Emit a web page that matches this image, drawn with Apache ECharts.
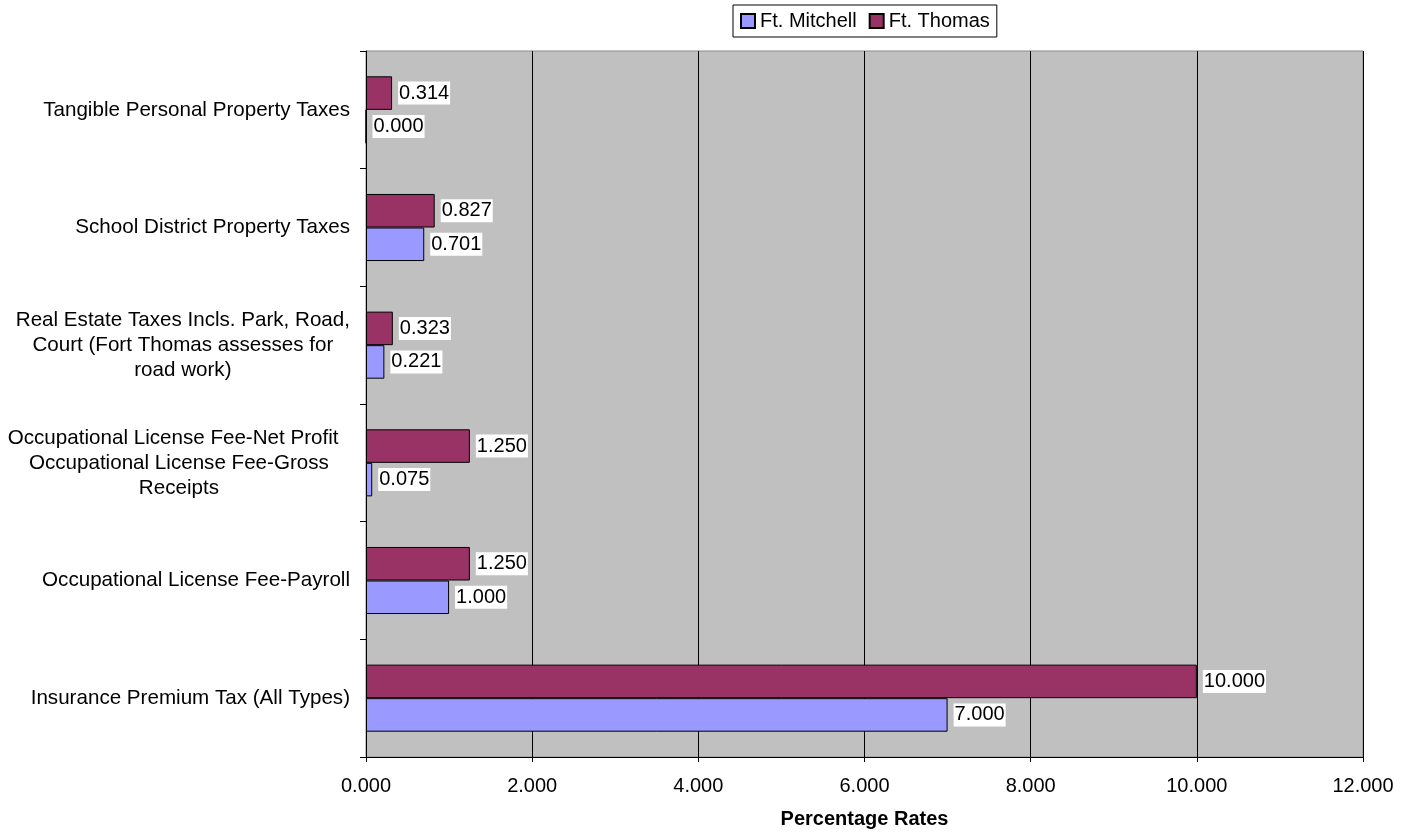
<!DOCTYPE html>
<html>
<head>
<meta charset="utf-8">
<title>Tax Rates: Ft. Mitchell vs Ft. Thomas</title>
<script src="https://cdn.jsdelivr.net/npm/echarts@6/dist/echarts.min.js"></script>
<style>
  html, body { margin: 0; padding: 0; background: #fff; }
  #chart { width: 1416px; height: 834px; }
</style>
</head>
<body>
<div id="chart"></div>
<script>
// Tax categories, listed from the bottom of the axis to the top
const categories = [
  'Insurance Premium Tax (All Types)',
  'Occupational License Fee-Payroll',
  'Occupational License Fee-Net Profit  \nOccupational License Fee-Gross\nReceipts',
  'Real Estate Taxes Incls. Park, Road,\nCourt (Fort Thomas assesses for\nroad work)',
  'School District Property Taxes',
  'Tangible Personal Property Taxes'
];

// Percentage rates per city
const ftMitchell = [7.000, 1.000, 0.075, 0.221, 0.701, 0.000];
const ftThomas   = [10.000, 1.250, 1.250, 0.323, 0.827, 0.314];

// X axis range
const axisMin = 0;
const axisMax = 12;
const axisStep = 2;

const FONT = "'Liberation Sans', Arial, Helvetica, sans-serif";

const chart = echarts.init(document.getElementById('chart'), null, { renderer: 'canvas' });

const valueLabel = {
  show: true,
  position: 'right',
  distance: 6,
  formatter: p => p.value.toFixed(3),
  color: '#000',
  fontFamily: FONT,
  fontSize: 20,
  backgroundColor: '#fff',
  padding: [2, 1, 1, 1]
};

chart.setOption({
  animation: false,
  textStyle: { fontFamily: FONT },
  legend: {
    data: ['Ft. Mitchell', 'Ft. Thomas'],
    icon: 'rect',
    left: 733,
    top: 5,
    orient: 'horizontal',
    backgroundColor: '#fff',
    borderColor: '#000',
    borderWidth: 1,
    padding: [6, 7, 6, 7],
    itemWidth: 14,
    itemHeight: 14,
    itemGap: 12,
    textStyle: { fontFamily: FONT, fontSize: 20, color: '#000' }
  },
  grid: {
    left: 366,
    right: 53,
    top: 51,
    bottom: 77,
    show: true,
    backgroundColor: '#C0C0C0',
    borderColor: '#8a8a8a',
    borderWidth: 1
  },
  xAxis: {
    type: 'value',
    min: axisMin,
    max: axisMax,
    interval: axisStep,
    name: 'Percentage Rates',
    nameLocation: 'middle',
    nameGap: 52,
    nameTextStyle: { fontFamily: FONT, fontSize: 20, fontWeight: 'bold', color: '#000' },
    axisLine: { show: true, lineStyle: { color: '#000', width: 1 } },
    axisTick: { show: true, length: 5, lineStyle: { color: '#000' } },
    axisLabel: {
      margin: 19,
      color: '#000',
      fontFamily: FONT,
      fontSize: 20,
      formatter: v => v.toFixed(3)
    },
    splitLine: { show: true, lineStyle: { color: '#000', width: 1 } }
  },
  yAxis: {
    type: 'category',
    data: categories,
    axisLine: { show: true, lineStyle: { color: '#000', width: 1 } },
    axisTick: { show: true, length: 6, lineStyle: { color: '#000' } },
    axisLabel: {
      margin: 16,
      color: '#000',
      fontFamily: FONT,
      fontSize: 20.6,
      // each wrapped line is centred inside the right-aligned label block
      formatter: v => v.split('\n').map(line => '{c|' + line + '}').join('\n'),
      rich: {
        c: { align: 'center', fontFamily: FONT, fontSize: 20.6, lineHeight: 25, color: '#000' }
      }
    },
    splitLine: { show: false }
  },
  series: [
    {
      name: 'Ft. Thomas',
      type: 'bar',
      data: ftThomas,
      barGap: '0%',
      barCategoryGap: '43%',
      itemStyle: { color: '#993366', borderColor: '#000', borderWidth: 1 },
      label: valueLabel
    },
    {
      name: 'Ft. Mitchell',
      type: 'bar',
      data: ftMitchell,
      barGap: '0%',
      barCategoryGap: '43%',
      itemStyle: { color: '#9999FF', borderColor: '#000', borderWidth: 1 },
      label: valueLabel
    }
  ]
});
</script>
</body>
</html>
